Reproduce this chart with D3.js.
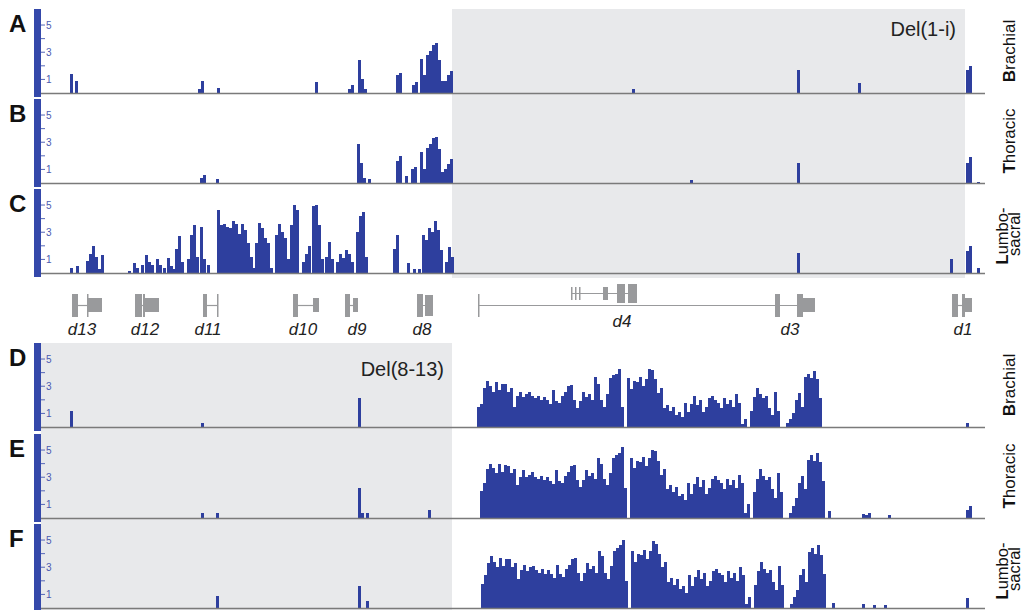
<!DOCTYPE html>
<html>
<head>
<meta charset="utf-8">
<script src="https://d3js.org/d3.v7.min.js"></script>
<style>
  body { margin: 0; background: #fff; }
  svg { display: block; font-family: "Liberation Sans", Arial, sans-serif; }
</style>
</head>
<body>
<div id="chart"></div>
<script>
// coverage bins are 3 kb wide; each cluster = [start kb, height, height, ...]
var BIN = 3;
var panels = ["A", "B", "C", "D", "E", "F"];
var tissues = ["Brachial", "Thoracic", "Lumbo-sacral"];
var yTicks = [1, 2, 3, 4, 5];
var yTickLabels = [1, 3, 5];
var delNames = ["Del(1-i)", "Del(8-13)"];
var delStart = [411, 0];
var delEnd = [924, 411];

var covA = [[29, 1.4], [34, 0.9], [157, 0.3, 0.9], [176, 0.35], [274, 0.8], [307, 0.3, 0.6],
  [317, 2.4, 1.0, 0.3], [355, 1.3, 1.5], [371, 0.6, 0.8],
  [379, 2.5, 1.3, 2.8, 3.1, 3.5, 3.7, 2.4, 0.9, 0.9, 1.3, 1.6],
  [591, 0.3], [756, 1.7], [817, 0.7], [925, 1.7, 2.0]];
var covB = [[159, 0.4, 0.6], [175, 0.3], [316, 2.9, 1.5, 0.4], [327, 0.3], [355, 1.6, 2.0],
  [364, 0.5], [370, 1.0, 1.2],
  [379, 2.3, 1.0, 2.6, 2.9, 3.3, 3.4, 2.5, 0.8, 1.0, 1.4, 1.8],
  [649, 0.2], [756, 1.5], [925, 1.5, 1.9], [936, 0.1]];
var covC = [[29, 0.35], [35, 0.5], [45, 0.9, 1.4, 2.0, 1.2, 0.3], [60, 1.3], [87, 0.15],
  [92, 0.7, 0.4], [100, 0.6], [104, 1.3, 0.8], [110, 0.6], [115, 1.0, 0.6], [122, 0.4],
  [126, 1.1, 0.5], [132, 0.3], [134, 1.8, 2.7, 0.8], [146, 1.0, 2.8, 3.5, 1.2],
  [159, 3.4, 1.0], [166, 0.6],
  [176, 4.6, 3.5, 3.6, 3.4, 3.3, 3.8, 3.6, 2.9, 3.6, 3.2, 2.2, 1.2, 0.4],
  [214, 2.2, 3.7, 3.3, 2.6, 2.2, 0.4], [234, 2.8, 3.6, 3.0, 2.6, 1.0], [249, 3.5, 5.0, 4.6],
  [261, 0.8, 1.4, 2.0], [271, 4.9, 5.0, 3.5, 1.0], [284, 1.2, 2.3, 1.0],
  [295, 0.8, 1.4, 1.1, 1.7, 1.4, 0.8], [315, 3.0, 4.2, 4.5, 1.2], [352, 1.8, 2.8],
  [366, 0.7], [372, 0.3], [377, 0.3], [381, 2.8, 2.4, 3.3, 3.0, 3.85, 3.2, 1.7],
  [404, 0.8, 1.9, 1.2], [756, 1.5], [909, 1.0], [925, 1.6, 2.0], [936, 0.4]];
var covD = [[29, 1.2], [160, 0.3], [317, 2.1],
  [436, 1.5, 1.7, 2.9, 3.4, 3.0, 2.6, 3.3, 2.7, 3.2, 3.2, 2.6, 2.9, 1.5, 2.3, 2.6, 2.2, 2.4, 2.6,
   2.3, 2.1, 2.3, 2.0, 2.2, 2.0, 1.7, 2.7, 1.9, 1.8, 2.3, 2.6, 3.0, 3.1, 2.0, 1.4, 1.9, 2.6, 2.2,
   2.4, 2.0, 3.7, 3.2, 2.0, 1.5, 2.4, 3.6, 3.8, 3.9, 4.3, 1.5, 0, 3.6, 2.8, 3.4, 3.3, 3.7, 3.0,
   3.5, 4.3, 4.2, 3.5, 2.5, 2.9, 1.4, 1.6, 1.2, 1.5, 0.9, 1.1, 0.7, 1.8, 1.1, 1.7, 2.3, 1.6, 2.0,
   1.1, 1.5, 2.1, 2.3, 2.0, 1.8, 1.4, 2.1, 1.7, 2.0, 1.5, 2.4, 1.8, 0.2, 0.6, 0, 1.2, 2.2, 2.9,
   2.4, 2.1, 2.3, 1.4, 0.9, 2.6, 1.2, 0, 0, 0.3, 0.6, 1.0, 2.0, 2.5, 1.5, 3.7, 3.9, 3.6, 4.1,
   3.5, 2.1],
  [925, 0.3]];
var covE = [[160, 0.4], [175, 0.4], [317, 2.2, 0.4], [325, 0.4], [387, 0.6],
  [439, 2.0, 2.6, 3.6, 4.0, 3.7, 3.3, 4.0, 3.4, 3.9, 3.8, 3.3, 3.6, 2.4, 3.0, 3.5, 3.0, 3.2, 3.4,
   3.0, 2.9, 3.1, 2.8, 3.0, 2.7, 2.5, 3.5, 2.7, 2.6, 3.1, 3.4, 3.8, 3.9, 2.8, 2.3, 2.8, 3.5, 3.1,
   3.3, 2.9, 4.4, 4.0, 2.9, 2.4, 3.3, 4.4, 4.6, 4.8, 5.2, 2.2, 0, 4.4, 3.7, 4.2, 4.1, 4.5, 3.8,
   4.4, 5.0, 4.9, 4.2, 3.2, 3.6, 2.1, 2.4, 1.9, 2.3, 1.6, 1.8, 1.3, 2.6, 1.8, 2.5, 3.0, 2.3, 2.8,
   1.8, 2.2, 2.9, 3.1, 2.8, 2.6, 2.1, 2.9, 2.4, 2.8, 2.2, 3.2, 2.6, 0.4, 1.0, 0, 1.9, 2.9, 3.6,
   3.1, 2.8, 3.0, 2.1, 1.5, 3.3, 1.9, 0, 0, 0.4, 0.9, 1.5, 2.6, 3.1, 2.1, 4.3, 4.6, 4.2, 4.8,
   4.1, 2.7],
  [787, 0.5], [821, 0.3, 0.2], [827, 0.4], [847, 0.2], [925, 0.6, 0.9]];
var covF = [[175, 0.9], [317, 1.6], [325, 0.5],
  [440, 1.8, 2.4, 3.3, 3.8, 3.4, 3.0, 3.7, 3.1, 3.6, 3.6, 3.0, 3.3, 2.1, 2.8, 3.2, 2.7, 3.0, 3.1,
   2.8, 2.6, 2.9, 2.5, 2.8, 2.5, 2.2, 3.2, 2.5, 2.3, 2.9, 3.2, 3.6, 3.7, 2.6, 2.0, 2.6, 3.3, 2.9,
   3.1, 2.6, 4.2, 3.8, 2.6, 2.1, 3.1, 4.2, 4.4, 4.6, 5.0, 2.0, 0, 4.2, 3.4, 4.0, 3.9, 4.3, 3.6,
   4.2, 4.9, 4.7, 4.0, 3.0, 3.4, 1.9, 2.2, 1.7, 2.1, 1.4, 1.6, 1.1, 2.4, 1.6, 2.3, 2.8, 2.1, 2.6,
   1.6, 2.0, 2.7, 2.9, 2.6, 2.4, 1.9, 2.7, 2.2, 2.6, 2.0, 3.0, 2.4, 0.3, 0.8, 0, 1.7, 2.7, 3.4,
   2.9, 2.6, 2.8, 1.9, 1.3, 3.1, 1.7, 0, 0, 0.3, 0.8, 1.3, 2.4, 2.9, 1.9, 4.1, 4.4, 4.0, 4.6,
   3.9, 2.5],
  [791, 0.4], [821, 0.3], [832, 0.2], [843, 0.2], [925, 0.7]];
var coverage = [covA, covB, covC, covD, covE, covF];

// gene models: [start kb, end kb, kind]  T tall exon, M medium exon, S/U upper-strand exons
var genes = ["d13", "d12", "d11", "d10", "d9", "d8", "d4", "d3", "d1"];
var geneLabelKb = [41, 104, 167, 262, 316, 381, 581, 749, 922];
var geneExons = [
  [[31, 37, "T"], [46, 47, "T"], [47, 61, "M"]],
  [[94, 101, "T"], [102, 104, "T"], [104, 118, "M"]],
  [[162, 166, "T"], [176, 177, "T"]],
  [[252, 257, "T"], [272, 278, "M"]],
  [[304, 309, "T"], [312, 317, "M"]],
  [[376, 382, "T"], [384, 392, "M2"]],
  [[530, 531, "S"], [534, 535, "S"], [538, 539, "S"], [562, 567, "S"], [576, 584, "U"], [587, 596, "U"]],
  [[437, 438, "T"], [734, 739, "T"], [756, 762, "T"], [762, 774, "M"]],
  [[911, 917, "T"], [921, 924, "T"], [924, 931, "M"]]
];
var geneIntrons = [[37, 46, 0], [101, 104, 0], [166, 176, 0], [257, 272, 0], [309, 312, 0],
  [382, 384, 0], [530, 587, 1], [437, 756, 0], [917, 921, 0]];

var W = 1024, H = 610;
var svg = d3.select("#chart").append("svg").attr("width", W).attr("height", H);

var x = d3.scaleLinear().domain([0, 944]).range([41, 985]);
var trackTop = [9, 99, 189, 343, 434, 524];
var trackH = 84;

var blue = "#2e3f9e";
var axisBlue = "#3448aa";
var grey = "#e8e9eb";

// deletion shading
var groupTop = [9, 343], groupBottom = [278, 610];
delNames.forEach(function (n, i) {
  svg.append("rect")
    .attr("x", x(delStart[i])).attr("y", groupTop[i])
    .attr("width", x(delEnd[i]) - x(delStart[i]))
    .attr("height", groupBottom[i] - groupTop[i])
    .attr("fill", grey);
});
svg.append("text").attr("x", 956).attr("y", 36).attr("text-anchor", "end")
  .attr("font-size", 20).attr("fill", "#222").text(delNames[0]);
svg.append("text").attr("x", 444).attr("y", 376).attr("text-anchor", "end")
  .attr("font-size", 20).attr("fill", "#222").text(delNames[1]);

panels.forEach(function (p, t) {
  var base = trackTop[t] + trackH;
  var y = d3.scaleLinear().domain([0, 6.18]).range([base, trackTop[t]]);
  var g = svg.append("g");

  // coverage bins
  var bins = [];
  coverage[t].forEach(function (c) {
    for (var i = 1; i < c.length; i++) {
      bins.push({ x0: c[0] + (i - 1) * BIN, h: c[i] });
    }
  });
  g.selectAll("rect.bin").data(bins.filter(function (d) { return d.h > 0; }))
    .enter().append("rect")
    .attr("x", function (d) { return x(d.x0); })
    .attr("width", function (d) { return x(d.x0 + BIN) - x(d.x0); })
    .attr("y", function (d) { return y(d.h); })
    .attr("height", function (d) { return base - y(d.h); })
    .attr("fill", blue)
    .attr("shape-rendering", "crispEdges");

  // baseline
  g.append("line").attr("x1", 41).attr("x2", 985).attr("y1", base + 0.5).attr("y2", base + 0.5)
    .attr("stroke", "#7a7a7a").attr("stroke-width", 1.6);

  // y axis bar + ticks
  g.append("rect").attr("x", 34).attr("y", trackTop[t]).attr("width", 7)
    .attr("height", trackH + 4).attr("fill", axisBlue);
  yTicks.forEach(function (v) {
    g.append("line").attr("x1", 41).attr("x2", 45)
      .attr("y1", y(v)).attr("y2", y(v))
      .attr("stroke", "#5566b8").attr("stroke-width", 1);
  });
  yTickLabels.forEach(function (v) {
    g.append("text").attr("x", 46).attr("y", y(v)).attr("dy", "0.35em")
      .attr("font-size", 10).attr("fill", "#4a5ab0").text(v);
  });

  // panel letter
  g.append("text").attr("x", 9).attr("y", trackTop[t] + 23)
    .attr("font-size", 24).attr("font-weight", "bold").attr("fill", "#111").text(p);

  // tissue label (rotated)
  var name = tissues[t % 3];
  var cy = trackTop[t] + 42;
  if (name.indexOf("-") < 0) {
    var tx = g.append("text")
      .attr("transform", "translate(1015," + cy + ") rotate(-90)")
      .attr("text-anchor", "middle").attr("font-size", 17).attr("fill", "#111");
    tx.append("tspan").attr("font-weight", "bold").text(name[0]);
    tx.append("tspan").text(name.slice(1));
  } else {
    var parts = name.split("-");
    var tx2 = g.append("text")
      .attr("transform", "translate(1008," + (cy + 5) + ") rotate(-90)")
      .attr("text-anchor", "middle").attr("font-size", 16.5).attr("fill", "#111");
    tx2.append("tspan").attr("font-weight", "bold").text(parts[0][0]);
    tx2.append("tspan").text(parts[0].slice(1) + "-");
    g.append("text")
      .attr("transform", "translate(1020," + (cy + 3) + ") rotate(-90)")
      .attr("text-anchor", "middle").attr("font-size", 16.5).attr("fill", "#111")
      .text(parts[1]);
  }
});

// gene models
var geneGrey = "#999a9c";
var kinds = { T: [294, 23], M: [298, 14], M2: [295, 21], S: [287, 13], U: [284, 19] };
var rowY = [305.5, 293.5];
var gg = svg.append("g");
geneIntrons.forEach(function (d) {
  gg.append("line").attr("x1", x(d[0])).attr("x2", x(d[1]))
    .attr("y1", rowY[d[2]]).attr("y2", rowY[d[2]])
    .attr("stroke", geneGrey).attr("stroke-width", 1.2);
});
geneExons.forEach(function (list) {
  list.forEach(function (e) {
    var k = kinds[e[2]];
    gg.append("rect").attr("x", x(e[0])).attr("y", k[0])
      .attr("width", Math.max(1.5, x(e[1]) - x(e[0]))).attr("height", k[1])
      .attr("fill", geneGrey);
  });
});
genes.forEach(function (n, i) {
  gg.append("text").attr("x", x(geneLabelKb[i])).attr("y", n === "d4" ? 327 : 335)
    .attr("text-anchor", "middle").attr("font-size", 17).attr("font-style", "italic")
    .attr("fill", "#222").text(n);
});
</script>
</body>
</html>
